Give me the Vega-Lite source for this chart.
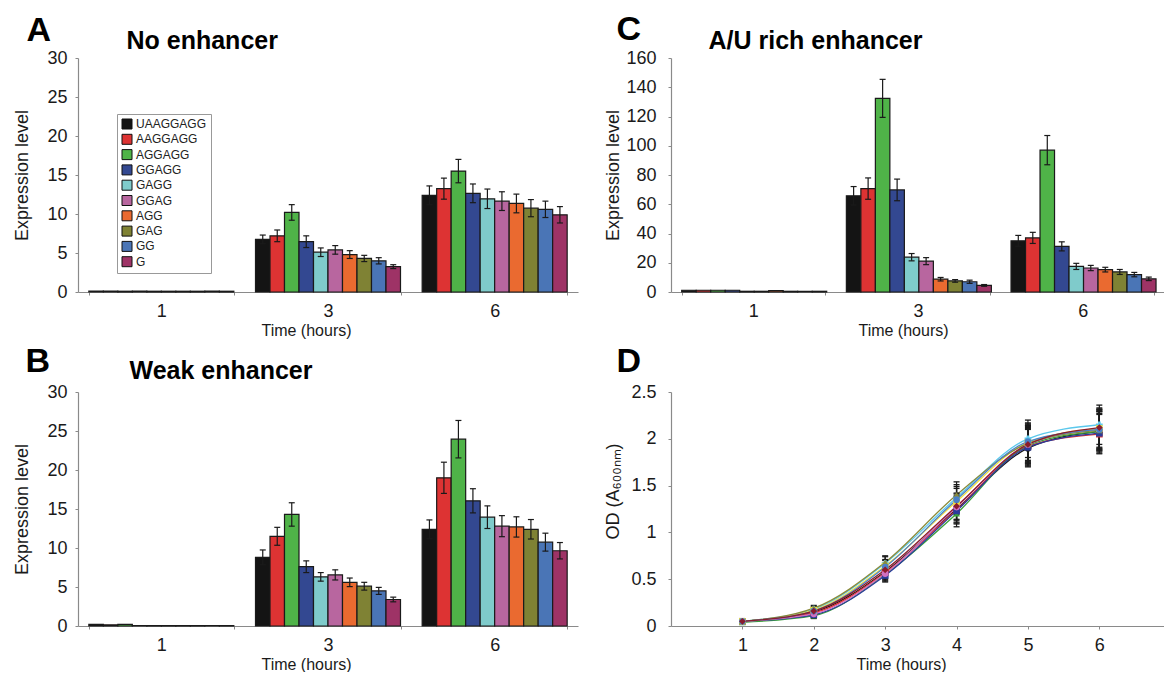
{
  "$schema": "https://vega.github.io/schema/vega-lite/v6.json",
  "background": "white",
  "padding": {"left": 12, "top": 12, "right": 0, "bottom": 0},
  "datasets": {
    "A": [
      {"time":"1","seq":"UAAGGAGG","value":0.1,"lo":null,"hi":null},
      {"time":"1","seq":"AAGGAGG","value":0.1,"lo":null,"hi":null},
      {"time":"1","seq":"AGGAGG","value":0.1,"lo":null,"hi":null},
      {"time":"1","seq":"GGAGG","value":0.1,"lo":null,"hi":null},
      {"time":"1","seq":"GAGG","value":0.1,"lo":null,"hi":null},
      {"time":"1","seq":"GGAG","value":0.1,"lo":null,"hi":null},
      {"time":"1","seq":"AGG","value":0.1,"lo":null,"hi":null},
      {"time":"1","seq":"GAG","value":0.1,"lo":null,"hi":null},
      {"time":"1","seq":"GG","value":0.1,"lo":null,"hi":null},
      {"time":"1","seq":"G","value":0.1,"lo":null,"hi":null},
      {"time":"3","seq":"UAAGGAGG","value":6.75,"lo":6.2,"hi":7.3},
      {"time":"3","seq":"AAGGAGG","value":7.2,"lo":6.45,"hi":7.95},
      {"time":"3","seq":"AGGAGG","value":10.2,"lo":9.2,"hi":11.2},
      {"time":"3","seq":"GGAGG","value":6.45,"lo":5.7,"hi":7.2},
      {"time":"3","seq":"GAGG","value":5.1,"lo":4.55,"hi":5.65},
      {"time":"3","seq":"GGAG","value":5.4,"lo":4.85,"hi":5.95},
      {"time":"3","seq":"AGG","value":4.8,"lo":4.3,"hi":5.3},
      {"time":"3","seq":"GAG","value":4.3,"lo":3.9,"hi":4.7},
      {"time":"3","seq":"GG","value":4.0,"lo":3.6,"hi":4.4},
      {"time":"3","seq":"G","value":3.25,"lo":3.0,"hi":3.5},
      {"time":"6","seq":"UAAGGAGG","value":12.4,"lo":11.2,"hi":13.6},
      {"time":"6","seq":"AAGGAGG","value":13.25,"lo":11.9,"hi":14.6},
      {"time":"6","seq":"AGGAGG","value":15.5,"lo":14.0,"hi":17.0},
      {"time":"6","seq":"GGAGG","value":12.65,"lo":11.45,"hi":13.85},
      {"time":"6","seq":"GAGG","value":11.95,"lo":10.7,"hi":13.2},
      {"time":"6","seq":"GGAG","value":11.65,"lo":10.45,"hi":12.85},
      {"time":"6","seq":"AGG","value":11.35,"lo":10.15,"hi":12.55},
      {"time":"6","seq":"GAG","value":10.75,"lo":9.65,"hi":11.85},
      {"time":"6","seq":"GG","value":10.6,"lo":9.55,"hi":11.65},
      {"time":"6","seq":"G","value":9.9,"lo":8.85,"hi":10.95}
    ],
    "B": [
      {"time":"1","seq":"UAAGGAGG","value":0.2,"lo":null,"hi":null},
      {"time":"1","seq":"AAGGAGG","value":0.15,"lo":null,"hi":null},
      {"time":"1","seq":"AGGAGG","value":0.2,"lo":null,"hi":null},
      {"time":"1","seq":"GGAGG","value":0.05,"lo":null,"hi":null},
      {"time":"1","seq":"GAGG","value":0.05,"lo":null,"hi":null},
      {"time":"1","seq":"GGAG","value":0.05,"lo":null,"hi":null},
      {"time":"1","seq":"AGG","value":0.05,"lo":null,"hi":null},
      {"time":"1","seq":"GAG","value":0.05,"lo":null,"hi":null},
      {"time":"1","seq":"GG","value":0.05,"lo":null,"hi":null},
      {"time":"1","seq":"G","value":0.05,"lo":null,"hi":null},
      {"time":"3","seq":"UAAGGAGG","value":8.8,"lo":7.85,"hi":9.75},
      {"time":"3","seq":"AAGGAGG","value":11.5,"lo":10.35,"hi":12.65},
      {"time":"3","seq":"AGGAGG","value":14.3,"lo":12.8,"hi":15.8},
      {"time":"3","seq":"GGAGG","value":7.6,"lo":6.85,"hi":8.35},
      {"time":"3","seq":"GAGG","value":6.3,"lo":5.75,"hi":6.85},
      {"time":"3","seq":"GGAG","value":6.55,"lo":5.9,"hi":7.2},
      {"time":"3","seq":"AGG","value":5.6,"lo":5.05,"hi":6.15},
      {"time":"3","seq":"GAG","value":5.1,"lo":4.6,"hi":5.6},
      {"time":"3","seq":"GG","value":4.5,"lo":4.05,"hi":4.95},
      {"time":"3","seq":"G","value":3.4,"lo":3.1,"hi":3.7},
      {"time":"6","seq":"UAAGGAGG","value":12.4,"lo":11.2,"hi":13.6},
      {"time":"6","seq":"AAGGAGG","value":19.0,"lo":17.0,"hi":21.0},
      {"time":"6","seq":"AGGAGG","value":23.95,"lo":21.55,"hi":26.35},
      {"time":"6","seq":"GGAGG","value":16.05,"lo":14.5,"hi":17.6},
      {"time":"6","seq":"GAGG","value":13.95,"lo":12.5,"hi":15.4},
      {"time":"6","seq":"GGAG","value":12.8,"lo":11.45,"hi":14.15},
      {"time":"6","seq":"AGG","value":12.7,"lo":11.4,"hi":14.0},
      {"time":"6","seq":"GAG","value":12.4,"lo":11.15,"hi":13.65},
      {"time":"6","seq":"GG","value":10.75,"lo":9.6,"hi":11.9},
      {"time":"6","seq":"G","value":9.65,"lo":8.6,"hi":10.7}
    ],
    "C": [
      {"time":"1","seq":"UAAGGAGG","value":1.2,"lo":null,"hi":null},
      {"time":"1","seq":"AAGGAGG","value":1.2,"lo":null,"hi":null},
      {"time":"1","seq":"AGGAGG","value":1.2,"lo":null,"hi":null},
      {"time":"1","seq":"GGAGG","value":1.2,"lo":null,"hi":null},
      {"time":"1","seq":"GAGG","value":0.5,"lo":null,"hi":null},
      {"time":"1","seq":"GGAG","value":0.5,"lo":null,"hi":null},
      {"time":"1","seq":"AGG","value":1.0,"lo":null,"hi":null},
      {"time":"1","seq":"GAG","value":0.5,"lo":null,"hi":null},
      {"time":"1","seq":"GG","value":0.5,"lo":null,"hi":null},
      {"time":"1","seq":"G","value":0.5,"lo":null,"hi":null},
      {"time":"3","seq":"UAAGGAGG","value":65.8,"lo":59.5,"hi":72.1},
      {"time":"3","seq":"AAGGAGG","value":70.7,"lo":63.4,"hi":78.0},
      {"time":"3","seq":"AGGAGG","value":132.4,"lo":119.4,"hi":145.4},
      {"time":"3","seq":"GGAGG","value":69.8,"lo":62.4,"hi":77.2},
      {"time":"3","seq":"GAGG","value":23.8,"lo":21.3,"hi":26.3},
      {"time":"3","seq":"GGAG","value":21.1,"lo":18.7,"hi":23.5},
      {"time":"3","seq":"AGG","value":8.75,"lo":7.55,"hi":9.95},
      {"time":"3","seq":"GAG","value":7.6,"lo":6.7,"hi":8.5},
      {"time":"3","seq":"GG","value":7.0,"lo":5.9,"hi":8.1},
      {"time":"3","seq":"G","value":4.5,"lo":3.9,"hi":5.1},
      {"time":"6","seq":"UAAGGAGG","value":35.0,"lo":31.3,"hi":38.7},
      {"time":"6","seq":"AAGGAGG","value":37.0,"lo":33.2,"hi":40.8},
      {"time":"6","seq":"AGGAGG","value":97.0,"lo":87.0,"hi":107.0},
      {"time":"6","seq":"GGAGG","value":31.2,"lo":28.1,"hi":34.3},
      {"time":"6","seq":"GAGG","value":17.5,"lo":15.4,"hi":19.6},
      {"time":"6","seq":"GGAG","value":16.4,"lo":14.6,"hi":18.2},
      {"time":"6","seq":"AGG","value":15.3,"lo":13.7,"hi":16.9},
      {"time":"6","seq":"GAG","value":13.7,"lo":12.0,"hi":15.4},
      {"time":"6","seq":"GG","value":11.9,"lo":10.4,"hi":13.4},
      {"time":"6","seq":"G","value":9.0,"lo":7.8,"hi":10.2}
    ],
    "D": [
      {"series":"UAAGGAGG","time":1,"od":0.05,"lo":0.04,"hi":0.06},
      {"series":"UAAGGAGG","time":2,"od":0.15,"lo":0.12,"hi":0.18},
      {"series":"UAAGGAGG","time":3,"od":0.58,"lo":0.51,"hi":0.65},
      {"series":"UAAGGAGG","time":4,"od":1.25,"lo":1.11,"hi":1.39},
      {"series":"UAAGGAGG","time":5,"od":1.90,"lo":1.70,"hi":2.10},
      {"series":"UAAGGAGG","time":6,"od":2.08,"lo":1.87,"hi":2.29},
      {"series":"AAGGAGG","time":1,"od":0.05,"lo":0.04,"hi":0.06},
      {"series":"AAGGAGG","time":2,"od":0.14,"lo":0.11,"hi":0.17},
      {"series":"AAGGAGG","time":3,"od":0.57,"lo":0.50,"hi":0.64},
      {"series":"AAGGAGG","time":4,"od":1.24,"lo":1.10,"hi":1.38},
      {"series":"AAGGAGG","time":5,"od":1.92,"lo":1.72,"hi":2.12},
      {"series":"AAGGAGG","time":6,"od":2.05,"lo":1.84,"hi":2.26},
      {"series":"AGGAGG","time":1,"od":0.04,"lo":0.03,"hi":0.05},
      {"series":"AGGAGG","time":2,"od":0.11,"lo":0.08,"hi":0.14},
      {"series":"AGGAGG","time":3,"od":0.55,"lo":0.48,"hi":0.62},
      {"series":"AGGAGG","time":4,"od":1.20,"lo":1.06,"hi":1.34},
      {"series":"AGGAGG","time":5,"od":1.93,"lo":1.73,"hi":2.13},
      {"series":"AGGAGG","time":6,"od":2.08,"lo":1.87,"hi":2.29},
      {"series":"GGAGG","time":1,"od":0.05,"lo":0.04,"hi":0.06},
      {"series":"GGAGG","time":2,"od":0.12,"lo":0.09,"hi":0.15},
      {"series":"GGAGG","time":3,"od":0.54,"lo":0.47,"hi":0.61},
      {"series":"GGAGG","time":4,"od":1.23,"lo":1.09,"hi":1.37},
      {"series":"GGAGG","time":5,"od":1.91,"lo":1.71,"hi":2.11},
      {"series":"GGAGG","time":6,"od":2.06,"lo":1.85,"hi":2.27},
      {"series":"GAGG","time":1,"od":0.05,"lo":0.04,"hi":0.06},
      {"series":"GAGG","time":2,"od":0.18,"lo":0.15,"hi":0.21},
      {"series":"GAGG","time":3,"od":0.67,"lo":0.60,"hi":0.74},
      {"series":"GAGG","time":4,"od":1.37,"lo":1.23,"hi":1.51},
      {"series":"GAGG","time":5,"od":2.00,"lo":1.80,"hi":2.20},
      {"series":"GAGG","time":6,"od":2.15,"lo":1.94,"hi":2.36},
      {"series":"GGAG","time":1,"od":0.05,"lo":0.04,"hi":0.06},
      {"series":"GGAG","time":2,"od":0.13,"lo":0.10,"hi":0.16},
      {"series":"GGAG","time":3,"od":0.56,"lo":0.49,"hi":0.63},
      {"series":"GGAG","time":4,"od":1.27,"lo":1.13,"hi":1.41},
      {"series":"GGAG","time":5,"od":1.94,"lo":1.74,"hi":2.14},
      {"series":"GGAG","time":6,"od":2.10,"lo":1.89,"hi":2.31},
      {"series":"AGG","time":1,"od":0.05,"lo":0.04,"hi":0.06},
      {"series":"AGG","time":2,"od":0.17,"lo":0.14,"hi":0.20},
      {"series":"AGG","time":3,"od":0.64,"lo":0.57,"hi":0.71},
      {"series":"AGG","time":4,"od":1.33,"lo":1.19,"hi":1.47},
      {"series":"AGG","time":5,"od":1.96,"lo":1.76,"hi":2.16},
      {"series":"AGG","time":6,"od":2.11,"lo":1.90,"hi":2.32},
      {"series":"GAG","time":1,"od":0.05,"lo":0.04,"hi":0.06},
      {"series":"GAG","time":2,"od":0.19,"lo":0.16,"hi":0.22},
      {"series":"GAG","time":3,"od":0.68,"lo":0.61,"hi":0.75},
      {"series":"GAG","time":4,"od":1.40,"lo":1.26,"hi":1.54},
      {"series":"GAG","time":5,"od":1.95,"lo":1.75,"hi":2.15},
      {"series":"GAG","time":6,"od":2.09,"lo":1.88,"hi":2.30},
      {"series":"GG","time":1,"od":0.05,"lo":0.04,"hi":0.06},
      {"series":"GG","time":2,"od":0.16,"lo":0.13,"hi":0.19},
      {"series":"GG","time":3,"od":0.63,"lo":0.56,"hi":0.70},
      {"series":"GG","time":4,"od":1.35,"lo":1.21,"hi":1.49},
      {"series":"GG","time":5,"od":1.97,"lo":1.77,"hi":2.17},
      {"series":"GG","time":6,"od":2.10,"lo":1.89,"hi":2.31},
      {"series":"G","time":1,"od":0.05,"lo":0.04,"hi":0.06},
      {"series":"G","time":2,"od":0.16,"lo":0.13,"hi":0.19},
      {"series":"G","time":3,"od":0.60,"lo":0.53,"hi":0.67},
      {"series":"G","time":4,"od":1.28,"lo":1.14,"hi":1.42},
      {"series":"G","time":5,"od":1.94,"lo":1.74,"hi":2.14},
      {"series":"G","time":6,"od":2.12,"lo":1.91,"hi":2.33}
    ]
  },
  "columns": 2,
  "spacing": {"row": 100, "column": 93},
  "bounds": "flush",
  "resolve": {
    "scale": {"color": "independent", "shape": "independent", "x": "independent", "y": "independent"},
    "axis": {"x": "independent", "y": "independent"},
    "legend": {"color": "independent", "shape": "independent"}
  },
  "concat": [
    {
      "width": 500, "height": 234,
      "data": {"name": "A"},
      "resolve": {"axis": {"x": "independent"}},
      "layer": [
        {
          "mark": {"type": "bar", "stroke": "#1a1a1a", "strokeWidth": 1.2},
          "encoding": {
            "x": {"field": "time", "type": "nominal", "sort": ["1","3","6"],
                  "scale": {"paddingInner": 0.13, "paddingOuter": 0.065},
                  "axis": {"orient": "bottom", "title": "Time (hours)", "labelAngle": 0, "tickBand": "extent", "labelPadding": 7, "titleX": 228, "titleY": 43, "titleAlign": "center", "titleBaseline": "alphabetic"}},
            "xOffset": {"field": "seq", "type": "nominal", "sort": ["UAAGGAGG","AAGGAGG","AGGAGG","GGAGG","GAGG","GGAG","AGG","GAG","GG","G"]},
            "y": {"field": "value", "type": "quantitative", "title": "Expression level",
                  "scale": {"domain": [0, 30], "nice": false},
                  "axis": {"values": [0,5,10,15,20,25,30], "tickCount": 20, "labelPadding": 8, "titleX": -50.5, "titleBaseline": "alphabetic"}},
            "color": {"field": "seq", "type": "nominal", "sort": ["UAAGGAGG","AAGGAGG","AGGAGG","GGAGG","GAGG","GGAG","AGG","GAG","GG","G"],
                      "scale": {"domain": ["UAAGGAGG","AAGGAGG","AGGAGG","GGAGG","GAGG","GGAG","AGG","GAG","GG","G"],
                                "range": ["#141414","#dd3333","#4fb348","#334891","#7fcbcb","#b8669f","#ea6a30","#7f8234","#4a75b6","#9e3366"]},
                      "legend": {"orient": "none", "legendX": 39, "legendY": 56, "title": null, "symbolType": "square", "symbolSize": 100,
                                 "symbolStrokeColor": "#111111", "symbolStrokeWidth": 1, "labelFontSize": 12, "labelFont": "Liberation Sans",
                                 "labelColor": "#222222", "strokeColor": "#999999", "fillColor": "white", "padding": 4, "rowPadding": 1.3, "labelOffset": 3}}
          }
        },
        {
          "mark": {"type": "rule", "color": "#1a1a1a", "strokeWidth": 1.2},
          "encoding": {
            "x": {"field": "time", "type": "nominal", "sort": ["1","3","6"], "axis": null},
            "xOffset": {"field": "seq", "type": "nominal", "sort": ["UAAGGAGG","AAGGAGG","AGGAGG","GGAGG","GAGG","GGAG","AGG","GAG","GG","G"]},
            "y": {"field": "lo", "type": "quantitative", "title": "Expression level"},
            "y2": {"field": "hi"}
          }
        },
        {
          "mark": {"type": "tick", "orient": "horizontal", "size": 6, "thickness": 1.2, "color": "#1a1a1a", "opacity": 1},
          "encoding": {
            "x": {"field": "time", "type": "nominal", "sort": ["1","3","6"],
                  "axis": {"orient": "top", "title": "A", "domain": false, "ticks": false, "labels": false, "titleX": -52, "titleY": -18, "titleAlign": "left", "titleBaseline": "alphabetic", "titleAngle": 0, "titleFontSize": 34, "titleFontWeight": "bold", "titleColor": "#000000"}},
            "xOffset": {"field": "seq", "type": "nominal", "sort": ["UAAGGAGG","AAGGAGG","AGGAGG","GGAGG","GAGG","GGAG","AGG","GAG","GG","G"]},
            "y": {"field": "lo", "type": "quantitative", "title": "Expression level"}
          }
        },
        {
          "mark": {"type": "tick", "orient": "horizontal", "size": 6, "thickness": 1.2, "color": "#1a1a1a", "opacity": 1},
          "encoding": {
            "x": {"field": "time", "type": "nominal", "sort": ["1","3","6"],
                  "axis": {"orient": "top", "title": "No enhancer", "domain": false, "ticks": false, "labels": false, "titleX": 48, "titleY": -10, "titleAlign": "left", "titleBaseline": "alphabetic", "titleAngle": 0, "titleFontSize": 25, "titleFontWeight": "bold", "titleColor": "#000000"}},
            "xOffset": {"field": "seq", "type": "nominal", "sort": ["UAAGGAGG","AAGGAGG","AGGAGG","GGAGG","GAGG","GGAG","AGG","GAG","GG","G"]},
            "y": {"field": "hi", "type": "quantitative", "title": "Expression level"}
          }
        }
      ]
    },
    {
      "width": 494, "height": 234,
      "data": {"name": "C"},
      "resolve": {"axis": {"x": "independent"}},
      "layer": [
        {
          "mark": {"type": "bar", "stroke": "#1a1a1a", "strokeWidth": 1.2},
          "encoding": {
            "x": {"field": "time", "type": "nominal", "sort": ["1","3","6"],
                  "scale": {"paddingInner": 0.13, "paddingOuter": 0.065},
                  "axis": {"orient": "bottom", "title": "Time (hours)", "labelAngle": 0, "tickBand": "extent", "labelPadding": 7, "titleX": 232, "titleY": 43, "titleAlign": "center", "titleBaseline": "alphabetic"}},
            "xOffset": {"field": "seq", "type": "nominal", "sort": ["UAAGGAGG","AAGGAGG","AGGAGG","GGAGG","GAGG","GGAG","AGG","GAG","GG","G"]},
            "y": {"field": "value", "type": "quantitative", "title": "Expression level",
                  "scale": {"domain": [0, 160], "nice": false},
                  "axis": {"values": [0,20,40,60,80,100,120,140,160], "tickCount": 20, "labelPadding": 12, "titleX": -53, "titleBaseline": "alphabetic"}},
            "color": {"field": "seq", "type": "nominal",
                      "scale": {"domain": ["UAAGGAGG","AAGGAGG","AGGAGG","GGAGG","GAGG","GGAG","AGG","GAG","GG","G"],
                                "range": ["#141414","#dd3333","#4fb348","#334891","#7fcbcb","#b8669f","#ea6a30","#7f8234","#4a75b6","#9e3366"]},
                      "legend": null}
          }
        },
        {
          "mark": {"type": "rule", "color": "#1a1a1a", "strokeWidth": 1.2},
          "encoding": {
            "x": {"field": "time", "type": "nominal", "sort": ["1","3","6"], "axis": null},
            "xOffset": {"field": "seq", "type": "nominal", "sort": ["UAAGGAGG","AAGGAGG","AGGAGG","GGAGG","GAGG","GGAG","AGG","GAG","GG","G"]},
            "y": {"field": "lo", "type": "quantitative", "title": "Expression level"},
            "y2": {"field": "hi"}
          }
        },
        {
          "mark": {"type": "tick", "orient": "horizontal", "size": 6, "thickness": 1.2, "color": "#1a1a1a", "opacity": 1},
          "encoding": {
            "x": {"field": "time", "type": "nominal", "sort": ["1","3","6"],
                  "axis": {"orient": "top", "title": "C", "domain": false, "ticks": false, "labels": false, "titleX": -55, "titleY": -19, "titleAlign": "left", "titleBaseline": "alphabetic", "titleAngle": 0, "titleFontSize": 34, "titleFontWeight": "bold", "titleColor": "#000000"}},
            "xOffset": {"field": "seq", "type": "nominal", "sort": ["UAAGGAGG","AAGGAGG","AGGAGG","GGAGG","GAGG","GGAG","AGG","GAG","GG","G"]},
            "y": {"field": "lo", "type": "quantitative", "title": "Expression level"}
          }
        },
        {
          "mark": {"type": "tick", "orient": "horizontal", "size": 6, "thickness": 1.2, "color": "#1a1a1a", "opacity": 1},
          "encoding": {
            "x": {"field": "time", "type": "nominal", "sort": ["1","3","6"],
                  "axis": {"orient": "top", "title": "A/U rich enhancer", "domain": false, "ticks": false, "labels": false, "titleX": 37, "titleY": -10, "titleAlign": "left", "titleBaseline": "alphabetic", "titleAngle": 0, "titleFontSize": 25, "titleFontWeight": "bold", "titleColor": "#000000"}},
            "xOffset": {"field": "seq", "type": "nominal", "sort": ["UAAGGAGG","AAGGAGG","AGGAGG","GGAGG","GAGG","GGAG","AGG","GAG","GG","G"]},
            "y": {"field": "hi", "type": "quantitative", "title": "Expression level"}
          }
        }
      ]
    },
    {
      "width": 500, "height": 234,
      "data": {"name": "B"},
      "resolve": {"axis": {"x": "independent"}},
      "layer": [
        {
          "mark": {"type": "bar", "stroke": "#1a1a1a", "strokeWidth": 1.2},
          "encoding": {
            "x": {"field": "time", "type": "nominal", "sort": ["1","3","6"],
                  "scale": {"paddingInner": 0.13, "paddingOuter": 0.065},
                  "axis": {"orient": "bottom", "title": "Time (hours)", "labelAngle": 0, "tickBand": "extent", "labelPadding": 7, "titleX": 228, "titleY": 43, "titleAlign": "center", "titleBaseline": "alphabetic"}},
            "xOffset": {"field": "seq", "type": "nominal", "sort": ["UAAGGAGG","AAGGAGG","AGGAGG","GGAGG","GAGG","GGAG","AGG","GAG","GG","G"]},
            "y": {"field": "value", "type": "quantitative", "title": "Expression level",
                  "scale": {"domain": [0, 30], "nice": false},
                  "axis": {"values": [0,5,10,15,20,25,30], "tickCount": 20, "labelPadding": 8, "titleX": -51, "titleBaseline": "alphabetic"}},
            "color": {"field": "seq", "type": "nominal",
                      "scale": {"domain": ["UAAGGAGG","AAGGAGG","AGGAGG","GGAGG","GAGG","GGAG","AGG","GAG","GG","G"],
                                "range": ["#141414","#dd3333","#4fb348","#334891","#7fcbcb","#b8669f","#ea6a30","#7f8234","#4a75b6","#9e3366"]},
                      "legend": null}
          }
        },
        {
          "mark": {"type": "rule", "color": "#1a1a1a", "strokeWidth": 1.2},
          "encoding": {
            "x": {"field": "time", "type": "nominal", "sort": ["1","3","6"], "axis": null},
            "xOffset": {"field": "seq", "type": "nominal", "sort": ["UAAGGAGG","AAGGAGG","AGGAGG","GGAGG","GAGG","GGAG","AGG","GAG","GG","G"]},
            "y": {"field": "lo", "type": "quantitative", "title": "Expression level"},
            "y2": {"field": "hi"}
          }
        },
        {
          "mark": {"type": "tick", "orient": "horizontal", "size": 6, "thickness": 1.2, "color": "#1a1a1a", "opacity": 1},
          "encoding": {
            "x": {"field": "time", "type": "nominal", "sort": ["1","3","6"],
                  "axis": {"orient": "top", "title": "B", "domain": false, "ticks": false, "labels": false, "titleX": -53, "titleY": -21, "titleAlign": "left", "titleBaseline": "alphabetic", "titleAngle": 0, "titleFontSize": 34, "titleFontWeight": "bold", "titleColor": "#000000"}},
            "xOffset": {"field": "seq", "type": "nominal", "sort": ["UAAGGAGG","AAGGAGG","AGGAGG","GGAGG","GAGG","GGAG","AGG","GAG","GG","G"]},
            "y": {"field": "lo", "type": "quantitative", "title": "Expression level"}
          }
        },
        {
          "mark": {"type": "tick", "orient": "horizontal", "size": 6, "thickness": 1.2, "color": "#1a1a1a", "opacity": 1},
          "encoding": {
            "x": {"field": "time", "type": "nominal", "sort": ["1","3","6"],
                  "axis": {"orient": "top", "title": "Weak enhancer", "domain": false, "ticks": false, "labels": false, "titleX": 51, "titleY": -14, "titleAlign": "left", "titleBaseline": "alphabetic", "titleAngle": 0, "titleFontSize": 25, "titleFontWeight": "bold", "titleColor": "#000000"}},
            "xOffset": {"field": "seq", "type": "nominal", "sort": ["UAAGGAGG","AAGGAGG","AGGAGG","GGAGG","GAGG","GGAG","AGG","GAG","GG","G"]},
            "y": {"field": "hi", "type": "quantitative", "title": "Expression level"}
          }
        }
      ]
    },
    {
      "width": 494, "height": 234,
      "data": {"name": "D"},
      "resolve": {"axis": {"x": "independent"}},
      "layer": [
        {
          "mark": {"type": "line", "interpolate": "monotone", "strokeWidth": 1.3},
          "encoding": {
            "x": {"field": "time", "type": "quantitative",
                  "scale": {"domain": [0, 6.92], "nice": false, "zero": false},
                  "axis": {"orient": "bottom", "values": [1,2,3,4,5,6], "tickCount": 20, "format": "d", "title": "Time (hours)", "labelPadding": 7, "labelFlush": false, "titleX": 230, "titleY": 43, "titleAlign": "center", "titleBaseline": "alphabetic"}},
            "y": {"field": "od", "type": "quantitative", "title": "OD (A₆₀₀ₙₘ)",
                  "scale": {"domain": [0, 2.5], "nice": false},
                  "axis": {"values": [0,0.5,1,1.5,2,2.5], "tickCount": 20, "format": "~g", "labelPadding": 12, "titleX": -53, "titleY": 99, "titleAlign": "center", "titleBaseline": "alphabetic"}},
            "color": {"field": "series", "type": "nominal",
                      "scale": {"domain": ["UAAGGAGG","AAGGAGG","AGGAGG","GGAGG","GAGG","GGAG","AGG","GAG","GG","G"],
                                "range": ["#1a1a1a","#e03030","#3aa03a","#2a3c9c","#5bc8ec","#d070c0","#f0e040","#8a8a3a","#4a80c8","#8b1c2c"]},
                      "legend": null}
          }
        },
        {
          "mark": {"type": "rule", "color": "#1a1a1a", "strokeWidth": 1.2},
          "encoding": {
            "x": {"field": "time", "type": "quantitative", "axis": null},
            "y": {"field": "lo", "type": "quantitative", "title": "OD (A₆₀₀ₙₘ)"},
            "y2": {"field": "hi"},
            "detail": {"field": "series", "type": "nominal"}
          }
        },
        {
          "mark": {"type": "tick", "orient": "horizontal", "size": 6, "thickness": 1.3, "color": "#1a1a1a", "opacity": 1},
          "encoding": {
            "x": {"field": "time", "type": "quantitative",
                  "axis": {"orient": "top", "title": "D", "domain": false, "ticks": false, "labels": false, "titleX": -55, "titleY": -21, "titleAlign": "left", "titleBaseline": "alphabetic", "titleAngle": 0, "titleFontSize": 34, "titleFontWeight": "bold", "titleColor": "#000000"}},
            "y": {"field": "lo", "type": "quantitative", "title": "OD (A₆₀₀ₙₘ)"}
          }
        },
        {
          "mark": {"type": "tick", "orient": "horizontal", "size": 6, "thickness": 1.3, "color": "#1a1a1a", "opacity": 1},
          "encoding": {
            "x": {"field": "time", "type": "quantitative", "axis": null},
            "y": {"field": "hi", "type": "quantitative", "title": "OD (A₆₀₀ₙₘ)"}
          }
        },
        {
          "mark": {"type": "point", "filled": true, "size": 45, "opacity": 1},
          "encoding": {
            "x": {"field": "time", "type": "quantitative", "axis": null},
            "y": {"field": "od", "type": "quantitative", "title": "OD (A₆₀₀ₙₘ)"},
            "color": {"field": "series", "type": "nominal",
                      "scale": {"domain": ["UAAGGAGG","AAGGAGG","AGGAGG","GGAGG","GAGG","GGAG","AGG","GAG","GG","G"],
                                "range": ["#1a1a1a","#e03030","#3aa03a","#2a3c9c","#5bc8ec","#d070c0","#f0e040","#8a8a3a","#4a80c8","#8b1c2c"]},
                      "legend": null},
            "shape": {"field": "series", "type": "nominal",
                      "scale": {"domain": ["UAAGGAGG","AAGGAGG","AGGAGG","GGAGG","GAGG","GGAG","AGG","GAG","GG","G"],
                                "range": ["circle","square","triangle-up","square","cross","circle","square","triangle-up","circle","diamond"]},
                      "legend": null}
          }
        }
      ]
    }
  ],
  "config": {
    "font": "Liberation Sans",
    "view": {"stroke": null},
    "axis": {"labelFont": "Liberation Sans", "labelFontSize": 18, "labelColor": "#1a1a1a", "labelOverlap": false,
             "titleFont": "Liberation Sans", "titleFontSize": 18, "titleFontWeight": "normal", "titleColor": "#1a1a1a",
             "domainColor": "#8a8a8a", "tickColor": "#8a8a8a", "tickSize": 3, "domainWidth": 1.2, "grid": false},
    "axisX": {"titleFontSize": 16},
    "legend": {"labelFont": "Liberation Sans"}
  }
}
